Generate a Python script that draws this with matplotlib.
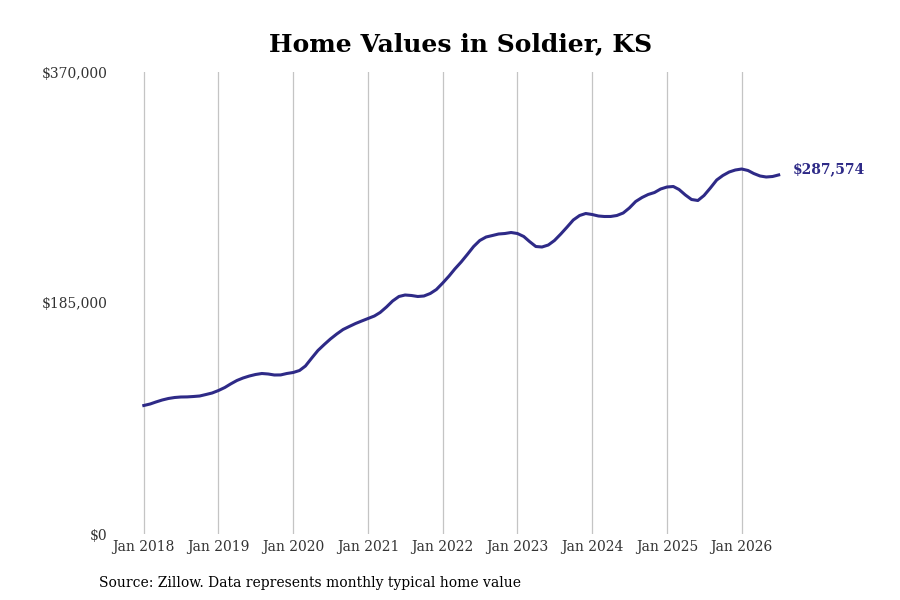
import numpy as np
import pandas as pd
import matplotlib
matplotlib.use("Agg")
import matplotlib.pyplot as plt
import matplotlib.dates as mdates

plt.rcParams['font.family'] = 'DejaVu Serif'

# monthly typical home value, Jan 2018 - Jul 2026
dates = pd.date_range("2018-01-01", "2026-07-01", freq="MS")
values = [
    102911, 104113, 105714, 107316, 108517, 109318, 109719, 109800, 110119, 110520, 111721, 112922,
    114924, 117327, 120130, 122933, 124935, 126537, 127738, 128539, 128139, 127338, 127400, 128539,
    129340, 130942, 134545, 140952, 146959, 151764, 156169, 160173, 163777, 166180, 168582, 170584,
    172587, 174589, 177392, 181797, 186602, 190206, 191407, 191007, 190206, 190606, 192608, 195812,
    201017, 206623, 212229, 217836, 223842, 230249, 235054, 237857, 239058, 240260, 240660, 241461,
    240660, 238258, 234253, 230249, 229849, 231450, 235054, 240260, 245866, 251472, 255076, 256678,
    255877, 254675, 254275, 254300, 255076, 257078, 261082, 266288, 269491, 271894, 273496, 276299,
    277900, 278301, 275898, 271494, 267890, 267089, 271093, 277100, 283507, 287110, 289914, 291515,
    292316, 291115, 288712, 286710, 285909, 286310, 287574,
]
yticks = [0, 185000, 370000]
ytick_labels = ["$0", "$185,000", "$370,000"]
xticks = pd.date_range("2018-01-01", "2026-01-01", freq="YS")
line_color = "#2e2a87"

fig = plt.figure(figsize=(9, 6), dpi=100)
ax = fig.add_axes([0.125, 0.11, 0.775, 0.77])

ax.plot(dates, values, color=line_color, linewidth=2.2)

ax.set_xlim(pd.Timestamp("2017-08-01"), pd.Timestamp("2026-12-01"))
ax.set_ylim(0, 370000)
ax.set_xticks(xticks)
ax.xaxis.set_major_formatter(mdates.DateFormatter("Jan %Y"))
ax.set_yticks(yticks)
ax.set_yticklabels(ytick_labels)

ax.grid(axis="x", color="#c4c4c4", linewidth=0.9)
ax.grid(axis="y", visible=False)
for s in ax.spines.values():
    s.set_visible(False)
ax.tick_params(axis="both", length=0, labelsize=10, colors="#333333")
ax.tick_params(axis="x", pad=4)
ax.tick_params(axis="y", pad=3.5)

ax.annotate("$287,574", xy=(dates[-1], values[-1]), xytext=(10, 4),
            textcoords="offset points", color=line_color, fontsize=10,
            fontweight="bold", va="center", ha="left")

fig.suptitle("Home Values in Soldier, KS", x=0.512, fontsize=18,
             fontweight="bold", y=0.947)
fig.text(0.11, 0.022, "Source: Zillow. Data represents monthly typical home value",
         fontsize=10, color="black")

fig.savefig("out.png", dpi=100)
